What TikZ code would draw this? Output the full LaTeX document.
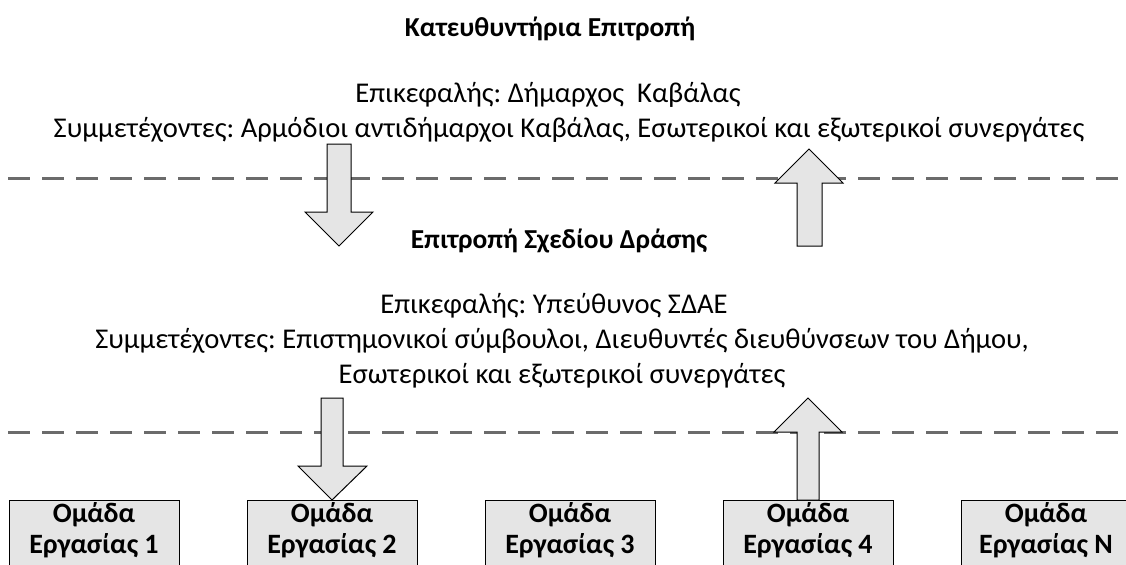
\documentclass[tikz,border=0pt]{standalone}
\usepackage{fontspec}
\setmainfont{Carlito}
\usepackage{tikz}
\frenchspacing

\begin{document}
\begin{tikzpicture}[x=0.5pt,y=-0.5pt,
	txt/.style={font=\fontsize{14.3}{17}\selectfont,anchor=base,inner sep=0pt},
	ttl/.style={txt,font=\fontsize{13.7}{16}\selectfont\bfseries},
	tm/.style={txt,font=\fontsize{14}{16}\selectfont\bfseries},
	sep/.style={draw=black!58,line width=1.5pt,dash pattern=on 11pt off 6pt,dash phase=-4pt},
	blk/.style={draw=black,fill=black!10,line width=0.5pt},
	team/.style={draw=black,fill=black!10,line width=0.5pt,minimum width=85pt,minimum height=40pt,anchor=north west,inner sep=0pt}]
		\useasboundingbox (0,0) rectangle (1126,564);
		\clip (0,0) rectangle (1126,564);
		\node[ttl] (steer) at (550,36) {Κατευθυντήρια Επιτροπή};
		\node[txt] (steerhead) at (548,102) {Επικεφαλής: Δήμαρχος\ \ Καβάλας};
		\node[txt] (steermemb) at (569,137) {Συμμετέχοντες: Αρμόδιοι αντιδήμαρχοι Καβάλας, Εσωτερικοί και εξωτερικοί συνεργάτες};
		\draw[sep] (0,178) -- (1126,178);
		\node[ttl] (plan) at (559,248) {Επιτροπή Σχεδίου Δράσης};
		\node[txt] (planhead) at (554,313) {Επικεφαλής: Υπεύθυνος ΣΔΑΕ};
		\node[txt] (planmemb) at (562,348) {Συμμετέχοντες: Επιστημονικοί σύμβουλοι, Διευθυντές διευθύνσεων του Δήμου,};
		\node[txt] (planmemb2) at (562,383) {Εσωτερικοί και εξωτερικοί συνεργάτες};
		\draw[sep] (0,432) -- (1126,432);
		\foreach \i/\n in {0/1,1/2,2/3,3/4,4/N}
			\node[team] (team\n) at (9+238*\i,500) {};
		\foreach \i/\n in {0/1,1/2,2/3,3/4,4/N} {
			\node[tm] at (94+238*\i,522) {Ομάδα};
			\node[tm] at (94+238*\i,553) {Εργασίας \n};
		}
		\draw[blk] (327,144) -- (351,144) -- (351,212) -- (373,212) -- (339,246) -- (305,212) -- (327,212) -- cycle;
		\draw[blk] (797,246) -- (822,246) -- (822,183) -- (843,183) -- (809,149) -- (775,183) -- (797,183) -- cycle;
		\draw[blk] (321,398) -- (343,398) -- (343,466) -- (367,466) -- (332,500) -- (298,466) -- (321,466) -- cycle;
		\draw[blk] (797,500) -- (819,500) -- (819,432) -- (842,432) -- (808,398) -- (774,432) -- (797,432) -- cycle;
	\end{tikzpicture}
\end{document}
